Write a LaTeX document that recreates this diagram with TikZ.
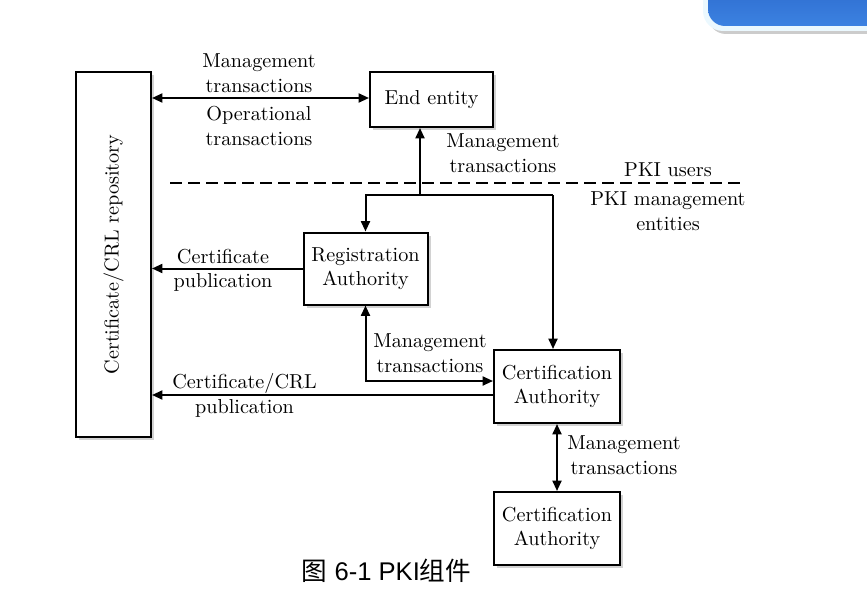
\documentclass[tikz,border=0pt]{standalone}
\usepackage{fontspec}
\newfontfamily\cjk{Noto Sans CJK SC}
\newfontfamily\capfont{Liberation Sans}
\usetikzlibrary{arrows.meta,shadows}
\begin{document}
\begin{tikzpicture}[x=0.5pt,y=-0.5pt,
  font=\fontsize{10.1}{12.3}\selectfont,
  box/.style={draw,line width=1pt,fill=white,inner sep=0pt,align=center,
    drop shadow={shadow xshift=1.5pt,shadow yshift=-1.5pt,fill=black!35,opacity=0.5}},
  conn/.style={line width=1pt,-{Triangle[length=5.2pt,width=4.5pt]}},
  conn2/.style={line width=1pt,{Triangle[length=5.2pt,width=4.5pt]}-{Triangle[length=5.2pt,width=4.5pt]}},
  lbl/.style={align=center,inner sep=0pt}]
\useasboundingbox (0,0) rectangle (867,599);
% blue tab top right
\fill[black!20,rounded corners=9pt] (708,-30) rectangle (900,34);
\fill[cyan!8,rounded corners=10pt] (703,-30) rectangle (900,31);
\shade[top color={rgb,255:red,40;green,100;blue,200},bottom color={rgb,255:red,60;green,130;blue,225},rounded corners=8.5pt] (708,-30) rectangle (900,26);
% boxes
\node[box,minimum width=37.5pt,minimum height=182.5pt] (repo) at (113.5,254.5) {};
\node[rotate=90,lbl] at (repo.center) {Certificate/CRL repository};
\node[box,minimum width=61.5pt,minimum height=27.5pt] (ee) at (431.5,99.5) {End entity};
\node[box,minimum width=62pt,minimum height=36pt] (ra) at (365.5,268.5) {Registration\\Authority};
\node[box,minimum width=63pt,minimum height=36.5pt] (ca1) at (557,386.5) {Certification\\Authority};
\node[box,minimum width=63pt,minimum height=36.5pt] (ca2) at (557,528.5) {Certification\\Authority};
% dashed separator
\coordinate (d1) at (170,183);
\coordinate (d2) at (745,183);
\draw[line width=1pt,dash pattern=on 6pt off 3pt] (d1) -- (d2);
% connectors
\coordinate (t1) at ([yshift=0.75pt]ee.west);
\draw[conn2] (t1 -| repo.east) -- (t1);
\coordinate (j) at (420,195);
\draw[conn] (j) -- (j |- ee.south);
\draw[conn] (j) -| (ra.north);
\coordinate (j2) at (553,195);
\draw[line width=1pt] (j) -- (j2);
\draw[conn] (j2) -- (j2 |- ca1.north);
\draw[conn] (ra.west) -- (ra.west -| repo.east);
\coordinate (r1) at ([yshift=2.75pt]ca1.west);
\draw[conn2] (ra.south) |- (r1);
\coordinate (c1) at ([yshift=-4.25pt]ca1.west);
\draw[conn] (c1) -- (c1 -| repo.east);
\draw[conn2] (ca1.south) -- (ca2.north);
% labels
\node[lbl] (l1) at (259,73) {Management\\transactions};
\node[lbl] (l2) at (259,126) {Operational\\transactions};
\node[lbl] (l3) at (503,153.5) {Management\\transactions};
\node[lbl] (l4) at (668,170) {PKI users};
\node[lbl] (l5) at (668,211.5) {PKI management\\entities};
\node[lbl] (l6) at (223,270.5) {Certificate\\publication};
\node[lbl] (l7) at (430,353) {Management\\transactions};
\node[lbl] (l8) at (244.5,395.5) {Certificate/CRL\\publication};
\node[lbl] (l9) at (624,455.5) {Management\\transactions};
% caption
\node[lbl,font=\fontsize{12.8}{14}\selectfont] (cap) at (386.5,571) {\cjk 图\capfont{} 6-1 PKI\cjk 组件};
\end{tikzpicture}
\end{document}
